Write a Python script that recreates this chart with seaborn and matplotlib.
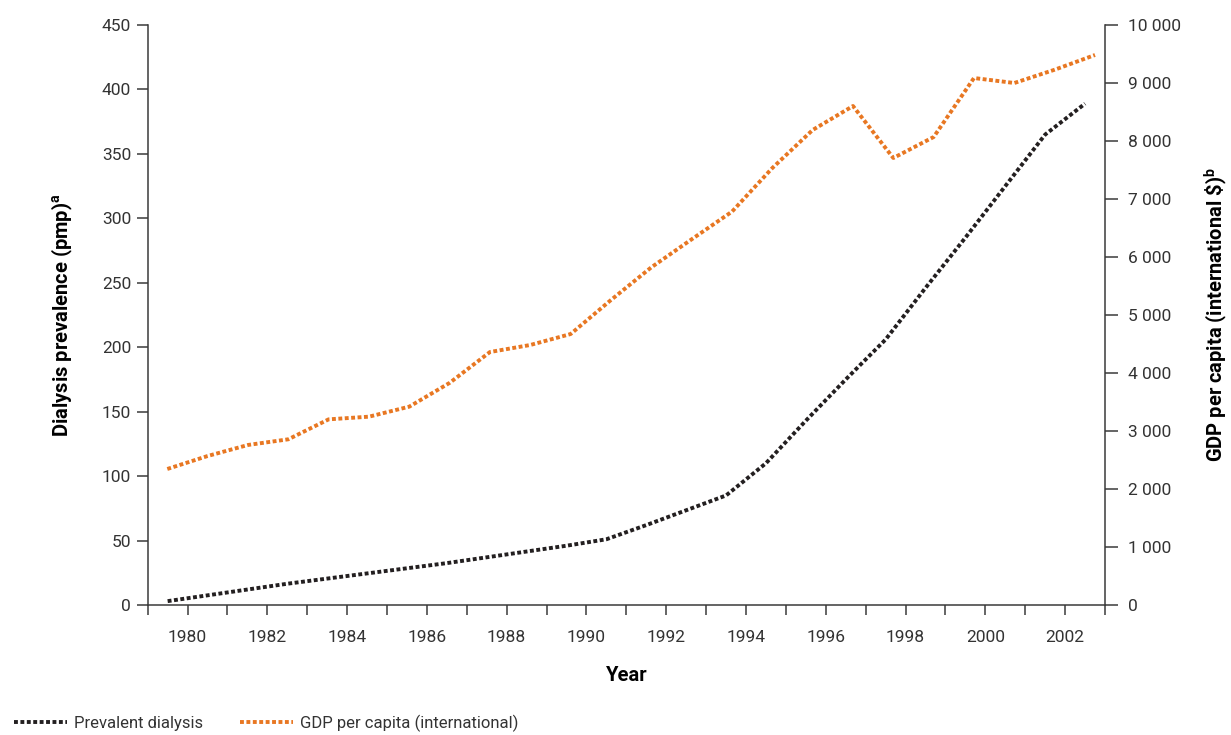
import matplotlib
matplotlib.use("Agg")
import matplotlib.pyplot as plt
from matplotlib.lines import Line2D
from matplotlib.ticker import FixedLocator, FuncFormatter, MultipleLocator
import seaborn as sns

# Annual series, 1979-2002 (values plotted at mid-year)
years = list(range(1979, 2003))
dialysis_pmp = [3, 7.5, 12, 16.5, 20.5, 24.5, 28.5, 32.5, 37, 41.5, 46, 51,
                62, 73.5, 85, 110, 143, 175, 206, 246, 285, 325, 365, 389]
gdp_per_capita = [2345, 2569, 2759, 2857, 3201, 3247, 3420, 3830, 4362, 4483,
                  4672, 5259, 5822, 6305, 6782, 7534, 8190, 8603, 7707, 8069,
                  9086, 9000, 9229, 9483]

left_ticks = list(range(0, 451, 50))
right_ticks = list(range(0, 10001, 1000))
label_years = list(range(1980, 2003, 2))

series_names = ["Prevalent dialysis", "GDP per capita (international)"]
left_label = r"Dialysis prevalence (pmp)$^{\mathbf{a}}$"
right_label = r"GDP per capita (international \$)$^{\mathbf{b}}$"
x_label = "Year"

BLACK = "#231f20"
ORANGE = "#e87722"
AXIS_GREY = "#3a3a3a"
TEXT_GREY = "#333333"
DOTS = (0, (1.0, 0.65))
LW = 2.8
TICK_FS = 12.5

sns.set_theme(style="white")
plt.rcParams["font.family"] = ["Roboto", "DejaVu Sans"]
plt.rcParams["mathtext.fontset"] = "custom"
plt.rcParams["mathtext.bf"] = "Roboto:bold"

W, H = 1231, 735
fig = plt.figure(figsize=(W / 100, H / 100), dpi=100)
rect = [147.7 / W, 1 - 605 / H, (1105 - 147.7) / W, (605 - 25) / H]

ax = fig.add_axes(rect)
ax2 = fig.add_axes(rect)
ax2.patch.set_alpha(0)

mid = [y + 0.5 for y in years]
sns.lineplot(x=mid, y=dialysis_pmp, ax=ax, color=BLACK, lw=LW,
             linestyle=DOTS)
sns.lineplot(x=mid, y=gdp_per_capita, ax=ax2, color=ORANGE, lw=LW,
             linestyle=DOTS)

# left axis: dialysis prevalence
ax.set_xlim(1979, 2003)
ax.set_ylim(0, 450)
ax.set_yticks(left_ticks)
ax.xaxis.set_major_locator(FixedLocator(label_years))
ax.xaxis.set_minor_locator(MultipleLocator(1))
ax.set_xticklabels([str(y) for y in label_years])
for side in ["top", "right"]:
    ax.spines[side].set_visible(False)
for side in ["left", "bottom"]:
    ax.spines[side].set_color(AXIS_GREY)
    ax.spines[side].set_linewidth(1.1)
ax.tick_params(axis="y", which="major", direction="out", length=8, width=1.1,
               color=AXIS_GREY, pad=4, labelsize=TICK_FS, labelcolor=TEXT_GREY, left=True)
ax.tick_params(axis="x", which="both", direction="out", length=7, width=1.1,
               color=AXIS_GREY, bottom=True)
ax.tick_params(axis="x", which="major", pad=11, labelsize=TICK_FS, labelcolor=TEXT_GREY)
ax.set_xlabel("")
ax.set_ylabel("")

# right axis: GDP per capita
ax2.set_xlim(1979.014, 2002.748)
ax2.set_ylim(0, 10000)
ax2.set_yticks(right_ticks)
ax2.yaxis.set_major_formatter(FuncFormatter(lambda v, p: f"{int(v):,}".replace(",", " ")))
ax2.yaxis.tick_right()
ax2.xaxis.set_visible(False)
for side in ["top", "left", "bottom"]:
    ax2.spines[side].set_visible(False)
ax2.spines["right"].set_visible(True)
ax2.spines["right"].set_color(AXIS_GREY)
ax2.spines["right"].set_linewidth(1.1)
ax2.tick_params(axis="y", direction="out", length=9.5, width=1.1, color=AXIS_GREY,
                pad=7, labelsize=TICK_FS, labelcolor=TEXT_GREY, right=True, left=False)
ax2.set_xlabel("")
ax2.set_ylabel("")

# axis titles
ax.text(-0.0895, 0.5, left_label, transform=ax.transAxes, rotation=90,
        ha="center", va="center", fontsize=14.5, fontweight="bold", color="black")
ax.text(1.116, 0.5, right_label, transform=ax.transAxes, rotation=90,
        ha="center", va="center", fontsize=14.5, fontweight="bold", color="black")
ax.text(0.5, -0.1224, x_label, transform=ax.transAxes,
        ha="center", va="center", fontsize=14.5, fontweight="bold", color="black")

# legend along the bottom edge
handles = [Line2D([], [], color=BLACK, lw=LW, linestyle=DOTS),
           Line2D([], [], color=ORANGE, lw=LW, linestyle=DOTS)]
fig.legend(handles, series_names, loc="lower left", bbox_to_anchor=(0.002, -0.012),
           ncol=2, frameon=False, fontsize=12, handlelength=3.2,
           handletextpad=0.4, columnspacing=2.2, borderpad=0.2, labelcolor=TEXT_GREY)

fig.savefig("out.png", dpi=100)
